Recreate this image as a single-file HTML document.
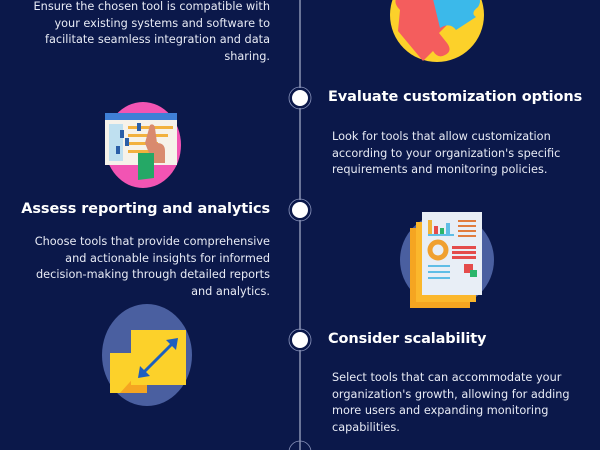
<!DOCTYPE html>
<html><head><meta charset="utf-8"><style>
body{margin:0;width:600px;height:450px;overflow:hidden;background:#0b184a;position:relative;font-family:"DejaVu Sans","Liberation Sans",sans-serif;color:#fff}
.t{position:absolute;font-size:11.3px;line-height:16.7px;color:#e8ebf5}
.r{text-align:right}
.h{position:absolute;font-weight:bold;font-size:14.5px;white-space:nowrap;letter-spacing:-0.1px}
svg{position:absolute;left:0;top:0}
</style></head><body>
<svg width="600" height="450">
<line x1="300" y1="0" x2="300" y2="450" stroke="#c8cfe6" stroke-width="1"/>
<g fill="#fff" stroke="#0b184a" stroke-width="2">
<circle cx="300" cy="98" r="9"/><circle cx="300" cy="210" r="9"/><circle cx="300" cy="340" r="9"/>
</g>
<g fill="none" stroke="#8a94bc" stroke-width="0.8">
<circle cx="300" cy="98" r="11"/><circle cx="300" cy="210" r="11"/><circle cx="300" cy="340" r="11"/><circle cx="300" cy="452" r="11"/>
</g>
<!-- puzzle -->
<circle cx="437" cy="15" r="47" fill="#fcd12a"/>
<path d="M400 10 q-8 -8 -2 -14 q6 -4 12 2 l15 -12 l20 25 q-5 8 4 12 l-10 10 l8 10 q6 8 -2 12 q-7 4 -12 -4 l-10 10 l-25 -30 z" fill="#f45d5d"/>
<path d="M432 -5 l40 0 q12 2 6 12 q-8 6 -2 10 l-20 13 q-6 -8 -16 -2 z" fill="#3bb9ea"/>
<!-- pink -->
<ellipse cx="143" cy="145" rx="38" ry="43" fill="#f254b3"/>
<rect x="105" y="113" width="72" height="52" fill="#f6f2ea"/>
<rect x="105" y="113" width="72" height="7" fill="#3f7fd6"/>
<rect x="109" y="124" width="14" height="37" fill="#bfe0f0"/>
<g fill="#f2b13e"><rect x="128" y="126" width="45" height="3"/><rect x="128" y="134" width="40" height="3"/><rect x="128" y="142" width="30" height="3"/><rect x="128" y="150" width="28" height="3"/></g>
<g fill="#2a5ea8"><rect x="137" y="123" width="4" height="8"/><rect x="120" y="130" width="4" height="8"/><rect x="125" y="138" width="4" height="8"/><rect x="116" y="146" width="4" height="8"/></g>
<path d="M150 125 q4 -2 5 3 l2 15 q8 0 8 8 l0 12 l-12 0 l-8 -20 z" fill="#d98a6e"/>
<path d="M138 153 l16 0 l0 25 l-16 2 z" fill="#25a866"/>
<!-- reports -->
<circle cx="447" cy="260" r="47" fill="#4a5fa0"/>
<rect x="410" y="228" width="60" height="80" fill="#f5a521"/>
<rect x="416" y="222" width="60" height="80" fill="#fbb72c"/>
<rect x="422" y="212" width="60" height="83" fill="#e8eef6"/>
<g fill="#f0b33a"><rect x="428" y="220" width="4" height="14"/></g>
<rect x="434" y="226" width="4" height="8" fill="#e44b4b"/><rect x="440" y="228" width="4" height="6" fill="#2ab56b"/><rect x="446" y="223" width="4" height="11" fill="#5fbde6"/>
<rect x="428" y="234" width="26" height="2" fill="#5fbde6"/>
<g fill="#e07c3e"><rect x="458" y="220" width="18" height="2"/><rect x="458" y="225" width="18" height="2"/><rect x="458" y="230" width="18" height="2"/><rect x="458" y="235" width="18" height="2"/></g>
<circle cx="438" cy="250" r="8" fill="none" stroke="#f0a030" stroke-width="5"/>
<g fill="#e44b4b"><rect x="452" y="246" width="24" height="3"/><rect x="452" y="251" width="24" height="3"/><rect x="452" y="256" width="24" height="3"/></g>
<g fill="#5fbde6"><rect x="428" y="265" width="22" height="2"/><rect x="428" y="271" width="22" height="2"/><rect x="428" y="277" width="22" height="2"/></g>
<rect x="464" y="264" width="9" height="9" fill="#e44b4b"/><rect x="470" y="270" width="7" height="7" fill="#2ab56b"/>
<!-- scale -->
<ellipse cx="147" cy="355" rx="45" ry="51" fill="#4a5fa0"/>
<rect x="110" y="353" width="37" height="40" fill="#f5a521"/>
<rect x="131" y="330" width="55" height="55" fill="#fcd12a"/>
<path d="M110 353 l37 0 l0 10 l-27 30 l-10 0z" fill="#fcd12a"/>
<line x1="140" y1="376" x2="176" y2="340" stroke="#1d5fbf" stroke-width="3"/>
<path d="M178 338 l-12 2 l10 10z M138 378 l2 -12 l10 10z" fill="#1d5fbf"/>
</svg>
<div class="t r" style="left:0;width:270px;top:-1px">Ensure the chosen tool is compatible with<br>your existing systems and software to<br>facilitate seamless integration and data<br>sharing.</div>
<div class="h" style="left:328px;top:89px">Evaluate customization options</div>
<div class="t" style="left:332px;top:129px">Look for tools that allow customization<br>according to your organization's specific<br>requirements and monitoring policies.</div>
<div class="h" style="right:330px;top:201px">Assess reporting and analytics</div>
<div class="t r" style="left:0;width:270px;top:234px">Choose tools that provide comprehensive<br>and actionable insights for informed<br>decision-making through detailed reports<br>and analytics.</div>
<div class="h" style="left:328px;top:331px">Consider scalability</div>
<div class="t" style="left:332px;top:370px">Select tools that can accommodate your<br>organization's growth, allowing for adding<br>more users and expanding monitoring<br>capabilities.</div>
</body></html>
